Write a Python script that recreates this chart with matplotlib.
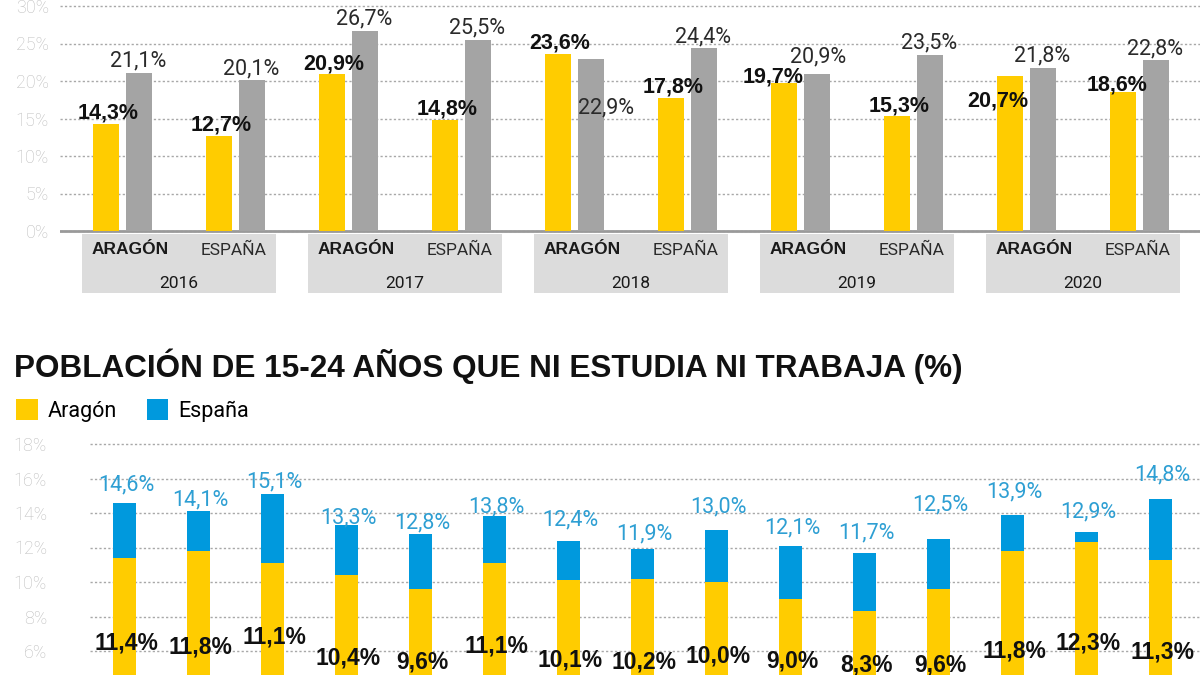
import matplotlib
matplotlib.use("Agg")
import matplotlib.pyplot as plt
from matplotlib.patches import Rectangle
import numpy as np

# ---------------- data ----------------
# top chart (groups: year x region)
years = ["2016", "2017", "2018", "2019", "2020"]
regions = ["ARAGÓN", "ESPAÑA"]
series_yellow = [14.3, 12.7, 20.9, 14.8, 23.6, 17.8, 19.7, 15.3, 20.7, 18.6]
series_gray = [21.1, 20.1, 26.7, 25.5, 22.9, 24.4, 20.9, 23.5, 21.8, 22.8]
top_ticks = [0, 5, 10, 15, 20, 25, 30]

# bottom chart: population 15-24 neither studying nor working (%)
nini_title = "POBLACIÓN DE 15-24 AÑOS QUE NI ESTUDIA NI TRABAJA (%)"
legend_labels = ["Aragón", "España"]
nini_aragon = [11.4, 11.8, 11.1, 10.4, 9.6, 11.1, 10.1, 10.2, 10.0, 9.0, 8.3, 9.6, 11.8, 12.3, 11.3]
nini_espana = [14.6, 14.1, 15.1, 13.3, 12.8, 13.8, 12.4, 11.9, 13.0, 12.1, 11.7, 12.5, 13.9, 12.9, 14.8]
bottom_ticks = [6, 8, 10, 12, 14, 16, 18]

# label layout (baseline heights in data units, bottom chart)
aragon_label_y = [6.06, 5.88, 6.46, 5.19, 4.96, 5.94, 5.13, 4.97, 5.36, 5.07, 4.84, 4.84, 5.65, 6.06, 5.54]
espana_label_y = [15.33, 14.41, 15.51, 13.42, 13.13, 14.06, 13.30, 12.44, 14.06, 12.84, 12.55, 14.17, 14.93, 13.77, 15.91]

# ---------------- style ----------------
YELLOW = "#FFCC00"
GRAY = "#A4A4A4"
BLUE = "#0099DD"
BLUE_TXT = "#2E9FD3"
BOX = "#DCDCDC"
TICK = "#BDBDBD"
GRID = "#A8A8A8"
BOLD_FONT = ["Liberation Sans", "DejaVu Sans"]
LIGHT_FONT = ["Roboto", "Liberation Sans", "DejaVu Sans"]

W, H = 1200, 675
fig = plt.figure(figsize=(W / 100, H / 100), dpi=100)
fig.patch.set_facecolor("white")


def px_box(x0, y0, x1, y1):
    return [x0 / W, 1 - y1 / H, (x1 - x0) / W, (y1 - y0) / H]


def fmt(v):
    return f"{v:.1f}%".replace(".", ",")


# ================= top chart =================
ax1 = fig.add_axes(px_box(60, 0, 1200, 300))
ppu_y1 = 7.5      # px per %
ppu_x1 = 113.0    # px per group
ax1.set_ylim(-69 / ppu_y1, 231 / ppu_y1)
ax1.set_xlim((60 - 122.5) / ppu_x1, (1200 - 122.5) / ppu_x1)

xg = np.arange(len(years) * len(regions))
off = 16.5 / ppu_x1
bw = 26 / ppu_x1
ax1.bar(xg - off, series_yellow, width=bw, color=YELLOW, zorder=3)
ax1.bar(xg + off, series_gray, width=bw, color=GRAY, zorder=3)

ax1.set_yticks(top_ticks)
ax1.set_yticklabels([f"{t}%" for t in top_ticks], family=LIGHT_FONT, fontweight="light")
ax1.tick_params(axis="y", length=0, pad=8, labelsize=13, labelcolor=TICK)
ax1.set_xticks([])
ax1.yaxis.grid(True, linestyle=(0, (1.6, 1.6)), color=GRID, linewidth=1.0)
ax1.set_axisbelow(True)
ax1.axhline(0, color="#9A9A9A", linewidth=2.0, zorder=2)
for s in ax1.spines.values():
    s.set_visible(False)

# value labels (offsets in pixels, exceptions to avoid overlaps as in the original)
default_dy = 5
yellow_off = {6: (-11, 1), 8: (-12.5, -31), 9: (-5.5, 1.5)}
gray_off = {4: (14.5, -53.75), 6: (1, 12)}
for i, v in enumerate(series_yellow):
    dx, dy = yellow_off.get(i, (2, default_dy))
    ax1.annotate(fmt(v), (xg[i] - off, v), xytext=(dx, dy), textcoords="offset pixels",
                 ha="center", va="baseline", fontsize=15.5, fontweight="bold",
                 family=BOLD_FONT, color="#111111", zorder=5, annotation_clip=False)
for i, v in enumerate(series_gray):
    dx, dy = gray_off.get(i, (-1, default_dy + 1))
    ax1.annotate(fmt(v), (xg[i] + off, v), xytext=(dx, dy), textcoords="offset pixels",
                 ha="center", va="baseline", fontsize=15.5, fontweight="normal",
                 family=LIGHT_FONT, color="#2A2A2A", zorder=5, annotation_clip=False)

# category boxes
box_pad = 40.5 / ppu_x1
y_box_top = (231 - 234) / ppu_y1
y_box_bot = (231 - 293) / ppu_y1
for k, yr in enumerate(years):
    a, b = xg[2 * k], xg[2 * k + 1]
    ax1.add_patch(Rectangle((a - box_pad, y_box_bot), (b - a) + 2 * box_pad,
                            y_box_top - y_box_bot, facecolor=BOX, edgecolor="none",
                            zorder=1, clip_on=False))
    ax1.text(a + 8 / ppu_x1, (231 - 250) / ppu_y1, regions[0], ha="center", va="center",
             fontsize=12.5, fontweight="bold", family=BOLD_FONT, color="#1A1A1A", zorder=4)
    ax1.text(b - 2 / ppu_x1, (231 - 250) / ppu_y1, regions[1], ha="center", va="center",
             fontsize=12.5, family=LIGHT_FONT, color="#2A2A2A", zorder=4)
    ax1.text((a + b) / 2, (231 - 284) / ppu_y1, yr, ha="center", va="center",
             fontsize=12.5, family=LIGHT_FONT, color="#1A1A1A", zorder=4)

# ================= bottom chart =================
ax2 = fig.add_axes(px_box(90, 430, 1200, 675))
ppu_y2 = 17.25
ppu_x2 = 74.04
ax2.set_ylim(6 - 24 / ppu_y2, 6 + 221 / ppu_y2)
ax2.set_xlim((90 - 124) / ppu_x2, (1200 - 124) / ppu_x2)

xb = np.arange(len(nini_aragon))
bw2 = 23 / ppu_x2
b_es = ax2.bar(xb, nini_espana, width=bw2, color=BLUE, zorder=3, label=legend_labels[1])
b_ar = ax2.bar(xb, nini_aragon, width=bw2, color=YELLOW, zorder=4, label=legend_labels[0])

ax2.set_yticks(bottom_ticks)
ax2.set_yticklabels([f"{t}%" for t in bottom_ticks], family=LIGHT_FONT, fontweight="light")
ax2.tick_params(axis="y", length=0, pad=31, labelsize=13, labelcolor=TICK)
ax2.set_xticks([])
ax2.yaxis.grid(True, linestyle=(0, (1.6, 1.6)), color=GRID, linewidth=1.0)
ax2.set_axisbelow(True)
for s in ax2.spines.values():
    s.set_visible(False)

for i in range(len(xb)):
    ax2.text(xb[i] + 2 / ppu_x2, espana_label_y[i], fmt(nini_espana[i]), ha="center",
             va="baseline", fontsize=15.5, fontweight="normal", family=LIGHT_FONT,
             color=BLUE_TXT, zorder=6, clip_on=False)
    ax2.text(xb[i] + 2 / ppu_x2, aragon_label_y[i], fmt(nini_aragon[i]), ha="center",
             va="baseline", fontsize=16.5, fontweight="bold", family=BOLD_FONT,
             color="#111111", zorder=6, clip_on=False)

# title (fit to original width)
title = fig.text(14 / W, 1 - 377 / H, nini_title, ha="left", va="baseline",
                 fontsize=20, fontweight="bold", family=BOLD_FONT, color="#111111")
fig.canvas.draw()
r = fig.canvas.get_renderer()
wpx = title.get_window_extent(r).width
title.set_fontsize(20 * 946 / wpx)

# legend
leg = fig.legend([b_ar, b_es], legend_labels, loc="center left",
                 bbox_to_anchor=(16 / W, 1 - 410.5 / H), ncol=2, frameon=False,
                 handlelength=1.0, handleheight=1.1, handletextpad=0.45,
                 columnspacing=1.4, borderpad=0, borderaxespad=0,
                 prop={"family": LIGHT_FONT, "size": 15.5})

fig.savefig("out.png", dpi=100, facecolor="white")
